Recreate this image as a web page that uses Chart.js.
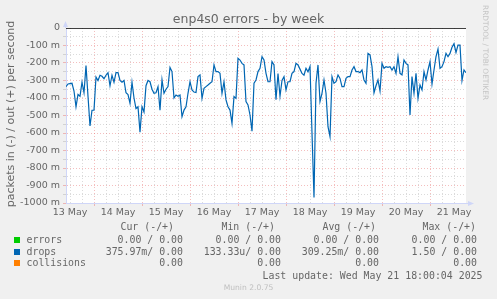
<!DOCTYPE html>
<html><head><meta charset="utf-8">
<script src="https://cdn.jsdelivr.net/npm/chart.js@4/dist/chart.umd.min.js"></script>
<style>
html,body{margin:0;padding:0;background:#f0f0f0;}
#wrap{position:relative;width:497px;height:299px;overflow:hidden;background:#f0f0f0;}
canvas{position:absolute;left:0;top:0;}
.t{position:absolute;white-space:pre;color:#666666;}
.mono{font-family:"DejaVu Sans Mono",monospace;font-size:9.9px;line-height:12px;height:12px;}
.sq{position:absolute;width:6px;height:6px;}
</style></head><body>
<div id="wrap"><canvas id="c" width="497" height="299"></canvas></div>
<script>
// ---- data ----
const chartTitle = "enp4s0 errors - by week";
const yAxisLabel = "packets in (-) / out (+) per second";
const watermark = "RRDTOOL / TOBI OETIKER";
const versionText = "Munin 2.0.75";
const lastUpdate = "Last update: Wed May 21 18:00:04 2025";
const dayLabels = ["13 May","14 May","15 May","16 May","17 May","18 May","19 May","20 May","21 May"];
const startHour = 10;   // hours after 13 May 00:00
const endHour = 210;    // 21 May 18:00
const sampleStepHours = 1;
// drops, in (negative) direction, packets per second, one sample per hour
const dropsIn = [
-0.335,-0.320,-0.318,-0.316,-0.360,-0.450,-0.380,-0.390,-0.310,-0.370,
-0.215,-0.390,-0.560,-0.470,-0.469,-0.280,-0.300,-0.270,-0.276,-0.290,
-0.270,-0.255,-0.330,-0.270,-0.310,-0.255,-0.255,-0.300,-0.310,-0.300,
-0.370,-0.380,-0.430,-0.310,-0.400,-0.460,-0.450,-0.595,-0.450,-0.480,
-0.330,-0.300,-0.307,-0.350,-0.373,-0.370,-0.335,-0.470,-0.295,-0.373,
-0.350,-0.335,-0.225,-0.249,-0.400,-0.383,-0.390,-0.383,-0.507,-0.469,
-0.450,-0.373,-0.307,-0.354,-0.366,-0.369,-0.278,-0.268,-0.402,-0.345,
-0.335,-0.326,-0.316,-0.307,-0.211,-0.249,-0.249,-0.259,-0.373,-0.307,
-0.411,-0.450,-0.469,-0.545,-0.392,-0.402,-0.173,-0.183,-0.202,-0.211,
-0.421,-0.440,-0.497,-0.590,-0.316,-0.297,-0.249,-0.230,-0.164,-0.183,
-0.259,-0.307,-0.307,-0.192,-0.211,-0.410,-0.260,-0.390,-0.300,-0.278,
-0.354,-0.307,-0.307,-0.259,-0.249,-0.202,-0.211,-0.235,-0.260,-0.270,
-0.230,-0.250,-0.220,-0.600,-0.968,-0.316,-0.211,-0.420,-0.373,-0.297,
-0.373,-0.564,-0.621,-0.278,-0.316,-0.307,-0.268,-0.288,-0.335,-0.335,
-0.288,-0.278,-0.278,-0.240,-0.221,-0.249,-0.249,-0.255,-0.240,-0.297,
-0.316,-0.145,-0.154,-0.221,-0.370,-0.330,-0.297,-0.360,-0.202,-0.230,
-0.221,-0.225,-0.221,-0.240,-0.221,-0.259,-0.164,-0.259,-0.268,-0.183,
-0.202,-0.211,-0.497,-0.278,-0.373,-0.259,-0.402,-0.326,-0.354,-0.250,
-0.297,-0.240,-0.192,-0.320,-0.240,-0.164,-0.120,-0.230,-0.221,-0.192,
-0.145,-0.164,-0.145,-0.110,-0.090,-0.140,-0.098,-0.098,-0.300,-0.240,
-0.255
];
const zeroLine = [0, 0];   // 0 rule across the graph
const legendNames = ["errors","drops","collisions"];
const legendColors = ["#00cc00","#0066b3","#ff8000"];
const legendHeaders = ["Cur (-/+)","Min (-/+)","Avg (-/+)","Max (-/+)"];
const curVals = ["0.00 / 0.00","375.97m/ 0.00","0.00"];
const minVals = ["0.00 / 0.00","133.33u/ 0.00","0.00"];
const avgVals = ["0.00 / 0.00","309.25m/ 0.00","0.00"];
const maxVals = ["0.00 / 0.00","1.50 / 0.00","0.00"];

// ---- html text ----
const wrap = document.getElementById('wrap');
function addText(txt, css, cls){
  const d = document.createElement('div');
  d.className = 't ' + (cls||'');
  d.textContent = txt;
  Object.assign(d.style, css);
  wrap.appendChild(d);
  return d;
}
addText(chartTitle, {left:'0px', top:'11px', width:'497px', textAlign:'center',
  fontFamily:'"DejaVu Sans"', fontSize:'12.5px', lineHeight:'16px'});
addText(yAxisLabel, {left:(11-150)+'px', top:(114-7)+'px', width:'300px', textAlign:'center',
  fontFamily:'"DejaVu Sans"', fontSize:'11px', lineHeight:'14px', transform:'rotate(-90deg)', transformOrigin:'50% 50%'});
addText(watermark, {left:'490px', top:'5px', fontFamily:'"DejaVu Sans"', fontSize:'7.4px', lineHeight:'9px',
  color:'#c4c4c4', transform:'rotate(90deg)', transformOrigin:'0 0'});
addText(versionText, {left:'0px', top:(288-5)+'px', width:'497px', textAlign:'center',
  fontFamily:'"DejaVu Sans"', fontSize:'7.6px', lineHeight:'10px', color:'#c0c0c0'});

const headerRight = [174, 275, 376, 476];
const colRight = [183, 281, 379, 477];
const rowY = [239.7, 251.7, 263.3];
legendHeaders.forEach((h,i)=>{
  addText(h, {right:(497-headerRight[i])+'px', top:(227.3-6)+'px'}, 'mono');
});
const cols = [curVals, minVals, avgVals, maxVals];
legendNames.forEach((n,r)=>{
  const sq = document.createElement('div');
  sq.className='sq';
  Object.assign(sq.style,{left:'14px', top:(rowY[r]-3)+'px', background:legendColors[r]});
  wrap.appendChild(sq);
  addText(n, {left:'26.5px', top:(rowY[r]-6)+'px'}, 'mono');
  cols.forEach((c,ci)=>{
    addText(c[r], {right:(497-colRight[ci])+'px', top:(rowY[r]-6)+'px'}, 'mono');
  });
});
addText(lastUpdate, {right:(497-482.5)+'px', top:(275.7-6)+'px'}, 'mono');

// ---- chart ----
const dropPoints = dropsIn.map((v,i)=>({x:startHour + i*sampleStepHours, y:v}));
const zeroPoints = zeroLine.map((v,i)=>({x: i===0 ? startHour : endHour, y:v}));

const bgPlugin = {
  id:'bg',
  beforeDraw(chart){
    const {ctx, chartArea:a} = chart;
    ctx.save(); ctx.fillStyle='#ffffff';
    ctx.fillRect(a.left, a.top, a.right-a.left, a.bottom-a.top);
    ctx.restore();
  },
  afterDraw(chart){
    const {ctx, chartArea:a} = chart;
    ctx.save();
    ctx.strokeStyle='#cfd6f8'; ctx.fillStyle='#cfd6f8'; ctx.lineWidth=1;
    ctx.beginPath(); ctx.moveTo(a.left-0.5, a.top); ctx.lineTo(a.left-0.5, a.top-2); ctx.stroke();
    ctx.beginPath(); ctx.moveTo(a.left-3, a.top-1); ctx.lineTo(a.left+2, a.top-1); ctx.lineTo(a.left-0.5, a.top-7); ctx.closePath(); ctx.fill();
    ctx.beginPath(); ctx.moveTo(a.right, a.bottom+0.5); ctx.lineTo(a.right+3, a.bottom+0.5); ctx.stroke();
    ctx.beginPath(); ctx.moveTo(a.right+2, a.bottom-2); ctx.lineTo(a.right+2, a.bottom+3); ctx.lineTo(a.right+8, a.bottom+0.5); ctx.closePath(); ctx.fill();
    ctx.restore();
  }
};

const majorGrid = 'rgba(230,110,110,0.45)';
const minorGrid = 'rgba(160,160,160,0.38)';

new Chart(document.getElementById('c'), {
  type:'line',
  data:{datasets:[
    {label:'drops', data:dropPoints, borderColor:'#0066b3', borderWidth:1.2, pointRadius:0, tension:0, fill:false},
    {label:'zero', data:zeroPoints, borderColor:'#000000', borderWidth:1.6, pointRadius:0, tension:0, fill:false}
  ]},
  options:{
    responsive:false, animation:false, devicePixelRatio:1,
    layout:{padding:{top:28, right:31, left:0, bottom:0}},
    plugins:{legend:{display:false}, tooltip:{enabled:false}, title:{display:false}},
    scales:{
      x:{
        type:'linear', min:startHour, max:endHour,
        afterFit(s){ s.height = 96; },
        afterBuildTicks(s){
          const t=[]; for(let h=12; h<endHour; h+=6) t.push({value:h}); s.ticks=t;
        },
        ticks:{autoSkip:false, maxRotation:0, minRotation:0, padding:1, color:'#666666',
          font:{family:'DejaVu Sans', size:9.5},
          callback:(v)=> (v%24===12 ? dayLabels[(v-12)/24] : '')},
        grid:{
          color:(c)=> (c.tick && c.tick.value%24===0) ? majorGrid : minorGrid,
          tickColor:(c)=> (c.tick && c.tick.value%24===0) ? majorGrid : 'rgba(0,0,0,0)',
          tickLength:3, lineWidth:1
        },
        border:{display:true, color:'#cfd6f8', dash:[1,2]}
      },
      y:{
        type:'linear', min:-1, max:0,
        afterFit(s){ s.width = 66; },
        afterBuildTicks(s){
          const t=[]; for(let k=-20; k<=0; k++) t.push({value:k*0.05}); s.ticks=t;
        },
        ticks:{autoSkip:false, padding:3, color:'#666666', font:{family:'DejaVu Sans', size:9.5},
          callback:(v)=>{ const m=Math.round(v*1000); if(m%100!==0) return ''; return m===0 ? '0' : (m+' m'); }},
        grid:{
          color:(c)=>{ const m=Math.round(c.tick.value*1000); if(m===0) return 'rgba(0,0,0,0)'; return (m%100===0)? majorGrid : minorGrid; },
          tickLength:3, lineWidth:1
        },
        border:{display:true, color:'#cfd6f8', dash:[1,2]}
      }
    }
  },
  plugins:[bgPlugin]
});
</script>
</body></html>
